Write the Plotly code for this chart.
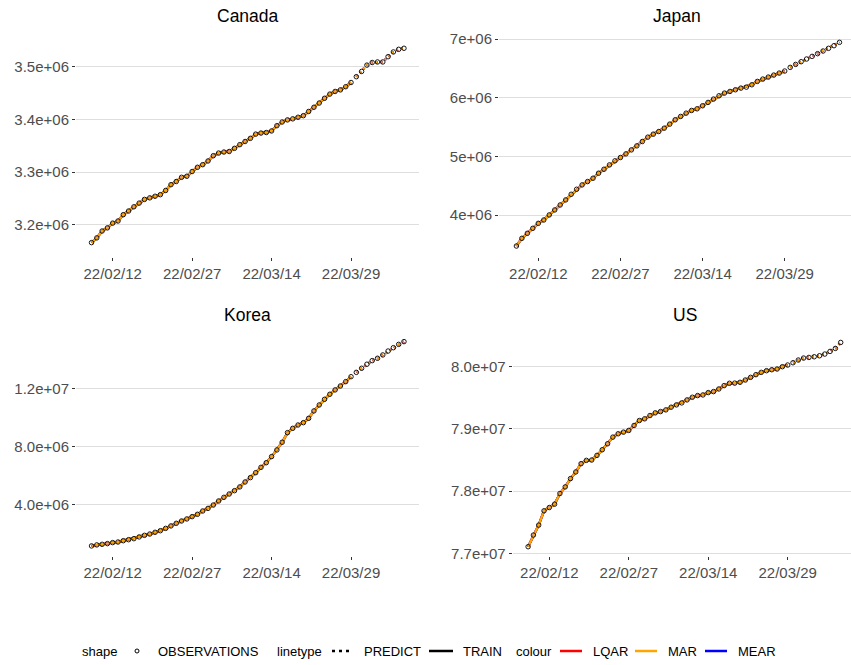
import pandas as pd
import plotly.graph_objects as go

# ---- data -------------------------------------------------------------
dates = pd.date_range("2022-02-08", "2022-04-08", freq="D")
N_TRAIN = 50  # 2022-02-08 .. 2022-03-29 used for training, rest is forecast

canada = [
    3166000, 3175000, 3188000, 3194000, 3203000, 3207000, 3219000, 3226000, 3234000, 3241000,
    3248000, 3251000, 3254000, 3257000, 3265000, 3276000, 3282000, 3290000, 3292000, 3301000,
    3309000,
    3314000, 3321000, 3331000, 3336000, 3338000, 3339000, 3345000, 3352000, 3358000, 3364000,
    3372000, 3374000, 3375000, 3378000, 3388000, 3395000, 3399000, 3401000, 3404000, 3407000,
    3415000, 3423000, 3431000, 3440000, 3448000, 3453000, 3456000, 3462000, 3470000, 3481000,
    3491000,
    3503000, 3508000, 3509000, 3509000, 3519000, 3528000, 3533000, 3535000,
]
japan = [
    3471000, 3602000, 3688000, 3773000, 3858000, 3915000, 4001000, 4086000, 4171000, 4257000,
    4353000, 4439000, 4513000, 4570000, 4627000, 4712000, 4780000, 4854000, 4923000, 4980000,
    5042000,
    5110000, 5179000, 5253000, 5327000, 5378000, 5423000, 5480000, 5549000, 5623000, 5680000,
    5736000, 5782000, 5810000, 5862000, 5919000, 5976000, 6032000, 6078000, 6106000, 6135000,
    6163000, 6180000, 6220000, 6277000, 6317000, 6351000, 6385000, 6419000, 6454000, 6516000,
    6567000,
    6613000, 6659000, 6704000, 6750000, 6795000, 6841000, 6886000, 6943000,
]
korea = [
    1130000, 1200000, 1240000, 1290000, 1360000, 1400000, 1490000, 1560000, 1630000, 1750000,
    1860000, 1950000, 2070000, 2180000, 2340000, 2510000, 2690000, 2850000, 2990000, 3150000,
    3310000,
    3540000, 3720000, 3950000, 4230000, 4480000, 4710000, 4940000, 5200000, 5540000, 5840000,
    6180000, 6550000, 6870000, 7290000, 7750000, 8280000, 8940000, 9240000, 9470000, 9630000,
    9930000, 10440000, 10850000, 11240000, 11590000, 11890000, 12160000, 12460000, 12800000, 13100000,
    13380000,
    13660000, 13910000, 14070000, 14300000, 14570000, 14800000, 15030000, 15220000,
]
us = [
    77106000, 77293000, 77453000, 77683000, 77736000, 77790000, 77961000, 78067000, 78201000, 78308000,
    78441000, 78494000, 78500000, 78574000, 78665000, 78761000, 78868000, 78922000, 78948000, 78975000,
    79055000,
    79135000, 79162000, 79215000, 79258000, 79279000, 79306000, 79349000, 79386000, 79418000, 79466000,
    79509000, 79536000, 79546000, 79584000, 79600000, 79642000, 79696000, 79733000, 79736000, 79749000,
    79786000, 79829000, 79872000, 79909000, 79936000, 79952000, 79963000, 80000000, 80027000, 80064000,
    80107000,
    80139000, 80149000, 80160000, 80176000, 80203000, 80246000, 80294000, 80390000,
]

x_tick_dates = ["2022-02-12", "2022-02-27", "2022-03-14", "2022-03-29"]
x_tick_text = ["22/02/12", "22/02/27", "22/03/14", "22/03/29"]

canada_ticks = [3.2e6, 3.3e6, 3.4e6, 3.5e6]
canada_tick_text = ["3.2e+06", "3.3e+06", "3.4e+06", "3.5e+06"]
japan_ticks = [4e6, 5e6, 6e6, 7e6]
japan_tick_text = ["4e+06", "5e+06", "6e+06", "7e+06"]
korea_ticks = [4e6, 8e6, 1.2e7]
korea_tick_text = ["4.0e+06", "8.0e+06", "1.2e+07"]
us_ticks = [7.7e7, 7.8e7, 7.9e7, 8.0e7]
us_tick_text = ["7.7e+07", "7.8e+07", "7.9e+07", "8.0e+07"]

models = ["LQAR", "MAR", "MEAR"]
model_colors = {"LQAR": "#FF0000", "MAR": "#FFA500", "MEAR": "#0000FF"}
draw_order = ["LQAR", "MEAR", "MAR"]

# ---- layout helpers ---------------------------------------------------
W, H = 851, 665
FONT = "Liberation Sans, Arial, sans-serif"


def px(x):
    return x / W


def py(y):
    return 1 - y / H


# panel geometry in pixels: left/right/top/bottom, pixel of first date tick,
# pixels per day, and two gridline anchors (value, pixel row)
panels = [
    dict(name="Canada", obs=canada, ticks=canada_ticks, tick_text=canada_tick_text,
         L=76, R=419, T=33, B=257, t0=112.7, ppd=5.296, g=((3.5e6, 66.7), (3.2e6, 224.7))),
    dict(name="Japan", obs=japan, ticks=japan_ticks, tick_text=japan_tick_text,
         L=499, R=855, T=33, B=257, t0=538.3, ppd=5.476, g=((7e6, 39.0), (4e6, 215.0))),
    dict(name="Korea", obs=korea, ticks=korea_ticks, tick_text=korea_tick_text,
         L=76, R=419, T=331.5, B=556, t0=112.7, ppd=5.296, g=((1.2e7, 388.3), (4e6, 504.3))),
    dict(name="US", obs=us, ticks=us_ticks, tick_text=us_tick_text,
         L=512.7, R=857, T=331.5, B=556, t0=549.3, ppd=5.298, g=((8.0e7, 366.7), (7.7e7, 553.3))),
]

fig = go.Figure()
layout_axes = {}
annotations = []
first_tick = pd.Timestamp(x_tick_dates[0])

for i, p in enumerate(panels, start=1):
    xa = "x" if i == 1 else f"x{i}"
    ya = "y" if i == 1 else f"y{i}"
    obs = p["obs"]

    # model curves: training fit (solid) and forecast (dotted)
    for m in draw_order:
        fig.add_trace(go.Scatter(
            x=dates[:N_TRAIN], y=obs[:N_TRAIN], mode="lines", xaxis=xa, yaxis=ya,
            line=dict(color=model_colors[m], width=2.4), showlegend=False, hoverinfo="skip"))
        fig.add_trace(go.Scatter(
            x=dates[N_TRAIN:], y=obs[N_TRAIN:], mode="lines", xaxis=xa, yaxis=ya,
            line=dict(color=model_colors[m], width=2.4, dash="2px,3px"), showlegend=False,
            hoverinfo="skip"))

    # observations
    fig.add_trace(go.Scatter(
        x=dates, y=obs, mode="markers", xaxis=xa, yaxis=ya, showlegend=False,
        marker=dict(symbol="circle-open", size=4.5, color="black", line=dict(width=0.9))))

    R_vis = min(p["R"], W)
    x0 = first_tick - pd.Timedelta(days=(p["t0"] - p["L"]) / p["ppd"])
    x1 = first_tick + pd.Timedelta(days=(R_vis - p["t0"]) / p["ppd"])

    (va, pa), (vb, pb) = p["g"]
    per_px = (va - vb) / (pb - pa)
    y_top = va + (pa - p["T"]) * per_px
    y_bot = vb - (p["B"] - pb) * per_px

    axis_common = dict(
        ticks="outside", ticklen=3, tickwidth=1, tickcolor="#333333",
        showline=False, zeroline=False, automargin=False,
        tickfont=dict(family=FONT, size=15, color="#4D4D4D"),
    )
    layout_axes["xaxis" if i == 1 else f"xaxis{i}"] = dict(
        axis_common, anchor=ya, domain=[px(p["L"]), px(R_vis)], type="date",
        range=[x0.isoformat(), x1.isoformat()], tickvals=x_tick_dates, ticktext=x_tick_text,
        showgrid=False)
    layout_axes["yaxis" if i == 1 else f"yaxis{i}"] = dict(
        axis_common, anchor=xa, domain=[py(p["B"]), py(p["T"])],
        range=[y_bot, y_top], tickvals=p["ticks"], ticktext=p["tick_text"],
        showgrid=True, gridcolor="#DEDEDE", gridwidth=1)

    annotations.append(dict(
        text=p["name"], xref="paper", yref="paper", x=px((p["L"] + p["R"]) / 2),
        y=py(p["T"] - 17), xanchor="center", yanchor="middle", showarrow=False,
        font=dict(family=FONT, size=17.5, color="black")))

# ---- legend row ---------------------------------------------------------
LEG_Y = 651
legend_texts = [
    ("shape", 80), ("OBSERVATIONS", 156), ("linetype", 275), ("PREDICT", 361.5),
    ("TRAIN", 461), ("colour", 514), ("LQAR", 590.5), ("MAR", 666), ("MEAR", 735.5),
]
for txt, x in legend_texts:
    annotations.append(dict(
        text=txt, xref="paper", yref="paper", x=px(x), y=py(LEG_Y), xanchor="left",
        yanchor="middle", showarrow=False, font=dict(family=FONT, size=13, color="black")))

shapes = [
    dict(type="circle", xref="paper", yref="paper", x0=px(135), x1=px(139),
         y0=py(LEG_Y + 2), y1=py(LEG_Y - 2), line=dict(color="black", width=1)),
    dict(type="line", xref="paper", yref="paper", x0=px(332), x1=px(353),
         y0=py(LEG_Y), y1=py(LEG_Y), line=dict(color="black", width=2.5, dash="3px,4px")),
    dict(type="line", xref="paper", yref="paper", x0=px(429), x1=px(453),
         y0=py(LEG_Y), y1=py(LEG_Y), line=dict(color="black", width=2.5)),
]
for m, (a, b) in zip(models, [(560, 582), (635, 657), (705, 727)]):
    shapes.append(dict(type="line", xref="paper", yref="paper", x0=px(a), x1=px(b),
                       y0=py(LEG_Y), y1=py(LEG_Y),
                       line=dict(color=model_colors[m], width=2.5)))

fig.update_layout(
    width=W, height=H, margin=dict(l=0, r=0, t=0, b=0),
    paper_bgcolor="white", plot_bgcolor="white", showlegend=False,
    font=dict(family=FONT), annotations=annotations, shapes=shapes, **layout_axes)

fig.write_html("out.html")
